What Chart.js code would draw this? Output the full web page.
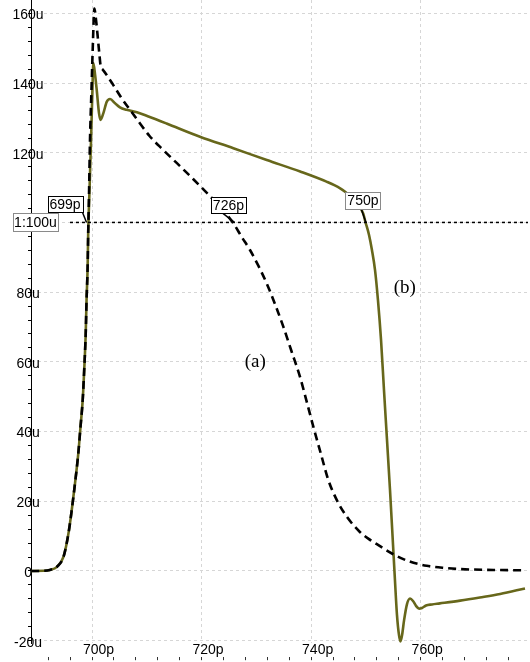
<!DOCTYPE html>
<html>
<head>
<meta charset="utf-8">
<script src="https://cdn.jsdelivr.net/npm/chart.js@4/dist/chart.umd.min.js"></script>
<style>
  html, body { margin: 0; padding: 0; background: #fff; }
  canvas { display: block; }
</style>
</head>
<body>
<canvas id="c" width="530" height="662"></canvas>
<script>
// Transient current waveforms: time in ps, current in uA.
// (a) reference output, dashed black
const timeA = [688.9, 691.2, 692.3, 693.6, 694.8, 695.7, 696.3, 696.9, 697.5, 697.9, 698.3, 698.6, 698.85, 699.0, 699.2, 699.3,
  699.45, 699.63, 699.9, 700.18, 700.42, 700.73, 701.04, 701.33, 701.59, 701.88, 702.68, 703.89, 705.42, 706.94, 708.76,
  710.5, 713.0, 715.5, 718.5, 721.5, 723.7, 725.8, 727.3, 728.84, 730.36, 731.89, 733.4, 734.92, 736.45, 737.97, 739.19,
  740.4, 741.75, 743.14, 744.67, 746.5, 748.9, 750.5, 752.0, 755.0, 758.0, 761.1, 764.1, 767.2, 773.3, 779.1];
const currentA = [0, 0.05, 0.3, 1.2, 4.1, 10.8, 17.5, 25.2, 33.8, 41.4, 49.1, 58.6, 68.2, 77.7, 87.3, 96.9,
  108.0, 123.7, 138.0, 152.3, 161.4, 158.1, 153.3, 148.5, 144.7, 144.0, 142.3, 139.4, 135.6, 132.3, 128.4,
  124.8, 120.8, 117.0, 112.4, 107.6, 103.9, 99.75, 95.9, 92.1, 87.6, 82.5, 76.6, 70.1, 62.9, 55.7, 48.6,
  41.4, 33.8, 26.1, 20.4, 15.6, 11.2, 9.2, 7.7, 4.8, 2.7, 1.5, 0.9, 0.55, 0.3, 0.2];

// (b) extended output, solid olive
const timeB = [688.9, 691.2, 692.3, 693.6, 694.8, 695.7, 696.3, 696.9, 697.5, 697.9, 698.3, 698.6, 698.85, 699.0, 699.2, 699.3,
  699.54, 699.82, 700.05, 700.24, 700.55, 700.86, 701.28, 701.55, 702.06, 702.68, 703.29, 704.2, 705.1, 706.3, 708.2,
  710.3, 713.6, 719.7, 725.8, 731.9, 738.0, 742.8, 745.3, 746.2, 747.5, 748.6, 749.5, 749.9, 750.57, 751.1, 751.66,
  752.2, 752.76, 753.3, 753.85, 754.4, 754.95, 755.3, 755.67, 756.04, 756.3, 756.6, 756.97, 757.5, 758.05, 758.6,
  759.15, 759.7, 760.24, 760.97, 762.06, 763.5, 767.2, 770.8, 774.5, 779.04];
const currentB = [0, 0.05, 0.3, 1.2, 4.1, 10.8, 17.5, 25.2, 33.8, 41.4, 49.1, 58.6, 68.2, 77.7, 87.3, 96.9,
  109.3, 123.6, 136.6, 145.7, 142.5, 138.0, 131.3, 129.4, 131.3, 134.6, 135.4, 134.2, 133.0, 132.3, 131.6,
  130.4, 128.4, 124.6, 121.3, 117.9, 114.6, 111.7, 109.8, 108.8, 107.0, 105.0, 102.6, 100.2, 96.4, 92.1, 86.4,
  77.7, 66.3, 51.9, 37.6, 23.2, 7.5, -2.6, -12.6, -18.4, -20.2, -18.4, -14.1, -9.5, -7.9, -8.6,
  -10.0, -10.8, -10.6, -9.9, -9.6, -9.3, -8.5, -7.6, -6.6, -5.0];

// Horizontal measurement cursor and the crossing times it reports
const cursorLevel = 100;            // uA
const cursorTimes = [699, 726, 750]; // ps

// Curve names
const curveNames = ['(a)', '(b)'];

// Axis window
const timeRange = [688.86, 779.59];
const currentRange = [-20.66, 163.82];
const majorTimeStep = 20, minorTimeStep = 4;
const majorCurrentStep = 20, minorCurrentStep = 4;

// ---- presentation ----
const SANS = '"Liberation Sans", Arial, Helvetica, sans-serif';
const SERIF = '"Liberation Serif", "Times New Roman", serif';
const OLIVE = '#67671b';
const GRID = '#d6d6d6';
const LABEL_SIZE = 14;

// Tag placement around each crossing (offsets from crossing point, px)
const tagLayout = [
  { dx: -39, dy: -26, w: 35, h: 16, leadX: 35, border: '#000' },
  { dx: -23.5, dy: -25, w: 35, h: 16, leadX: 12, border: '#000' },
  { dx: -20.5, dy: -30, w: 35, h: 17, leadX: 16, border: '#8a8a8a' }
];
// Where the curve names sit, in data units
const nameAnchors = [ { t: 729.8, v: 60 }, { t: 757.1, v: 81.2 } ];

Chart.defaults.font.family = SANS;
Chart.defaults.color = '#000';

function tag(ctx, x, y, w, h, text, border) {
  ctx.fillStyle = '#fff';
  ctx.fillRect(x, y, w, h);
  ctx.strokeStyle = border;
  ctx.lineWidth = 1;
  ctx.setLineDash([]);
  ctx.strokeRect(Math.round(x) + 0.5, Math.round(y) + 0.5, Math.round(w), Math.round(h));
  ctx.fillStyle = '#000';
  ctx.fillText(text, x + w / 2, y + h / 2 + 0.5);
}

const cursorOverlay = {
  id: 'cursorOverlay',
  afterDatasetsDraw(chart) {
    const { ctx, chartArea, scales: { x, y } } = chart;
    const cy = y.getPixelForValue(cursorLevel);
    ctx.save();

    // dotted cursor line
    ctx.beginPath();
    ctx.setLineDash([3, 3]);
    ctx.strokeStyle = '#000';
    ctx.lineWidth = 1.5;
    ctx.moveTo(chartArea.left + 39, cy);
    ctx.lineTo(chartArea.right, cy);
    ctx.stroke();

    ctx.font = LABEL_SIZE + 'px ' + SANS;
    ctx.textAlign = 'center';
    ctx.textBaseline = 'middle';

    // level tag on the current axis
    tag(ctx, chartArea.left - 18, cy - 9, 45, 18, '1:' + cursorLevel + 'u', '#8a8a8a');

    // crossing tags with leaders
    cursorTimes.forEach((t, i) => {
      const L = tagLayout[i];
      const cx = x.getPixelForValue(t);
      const bx = cx + L.dx, by = cy + L.dy;
      ctx.beginPath();
      ctx.setLineDash([]);
      ctx.strokeStyle = '#000';
      ctx.lineWidth = 1.5;
      ctx.moveTo(bx + L.leadX, by + L.h);
      ctx.lineTo(cx, cy);
      ctx.stroke();
      tag(ctx, bx, by, L.w, L.h, t + 'p', L.border);
    });

    // curve names
    ctx.font = '19px ' + SERIF;
    ctx.fillStyle = '#000';
    curveNames.forEach((name, i) => {
      const a = nameAnchors[i];
      ctx.fillText(name, x.getPixelForValue(a.t), y.getPixelForValue(a.v));
    });
    ctx.restore();
  }
};

const toPoints = (ts, vs) => ts.map((t, i) => ({ x: t, y: vs[i] }));
const noPad = s => { s.paddingLeft = 0; s.paddingRight = 0; s.paddingTop = 0; s.paddingBottom = 0; };

new Chart(document.getElementById('c'), {
  type: 'line',
  data: {
    datasets: [
      {
        label: curveNames[0],
        data: toPoints(timeA, currentA),
        borderColor: '#000',
        borderWidth: 2.6,
        borderDash: [8, 5],
        cubicInterpolationMode: 'monotone',
        pointRadius: 0,
        fill: false
      },
      {
        label: curveNames[1],
        data: toPoints(timeB, currentB),
        borderColor: OLIVE,
        borderWidth: 2.6,
        cubicInterpolationMode: 'monotone',
        pointRadius: 0,
        fill: false
      }
    ]
  },
  options: {
    responsive: false,
    animation: false,
    devicePixelRatio: 1,
    layout: { padding: { left: 28, right: 2, top: 0, bottom: 1.8 } },
    plugins: { legend: { display: false }, tooltip: { enabled: false } },
    elements: { line: { borderJoinStyle: 'round', borderCapStyle: 'butt' } },
    scales: {
      x: {
        type: 'linear', position: 'bottom', weight: 0,
        min: timeRange[0], max: timeRange[1],
        ticks: {
          stepSize: majorTimeStep, includeBounds: false, autoSkip: false,
          minRotation: 0, maxRotation: 0, padding: 0, labelOffset: 6.5,
          color: '#000', font: { size: LABEL_SIZE, lineHeight: 1.0 },
          callback: v => v + 'p'
        },
        grid: { color: GRID, lineWidth: 1, drawTicks: false },
        border: { display: false, dash: [3, 3] },
        afterFit: s => { noPad(s); s.height = 14.2; }
      },
      x2: {
        type: 'linear', position: 'bottom', weight: 1,
        min: timeRange[0], max: timeRange[1],
        ticks: { display: false, stepSize: minorTimeStep, includeBounds: false, autoSkip: false },
        grid: { drawOnChartArea: false, drawTicks: true, tickLength: 3, tickColor: '#333', tickWidth: 1 },
        border: { display: false },
        afterFit: s => { noPad(s); s.height = 3; }
      },
      y: {
        type: 'linear', position: 'left',
        min: currentRange[0], max: currentRange[1],
        ticks: {
          stepSize: minorCurrentStep, includeBounds: false, autoSkip: false,
          mirror: true, crossAlign: 'center', padding: -18.5, labelOffset: 2,
          color: '#000', font: { size: LABEL_SIZE },
          callback: v => (v % majorCurrentStep === 0) ? (v === 0 ? '0' : v + 'u') : ''
        },
        grid: {
          color: c => (c.tick && c.tick.value % majorCurrentStep === 0) ? GRID : 'rgba(0,0,0,0)',
          lineWidth: 1, tickLength: 3, tickColor: '#000', tickWidth: 1
        },
        border: { display: true, color: '#000', width: 1, dash: [3, 3] },
        afterFit: s => { noPad(s); s.width = 3; }
      }
    }
  },
  plugins: [cursorOverlay]
});
</script>
</body>
</html>
